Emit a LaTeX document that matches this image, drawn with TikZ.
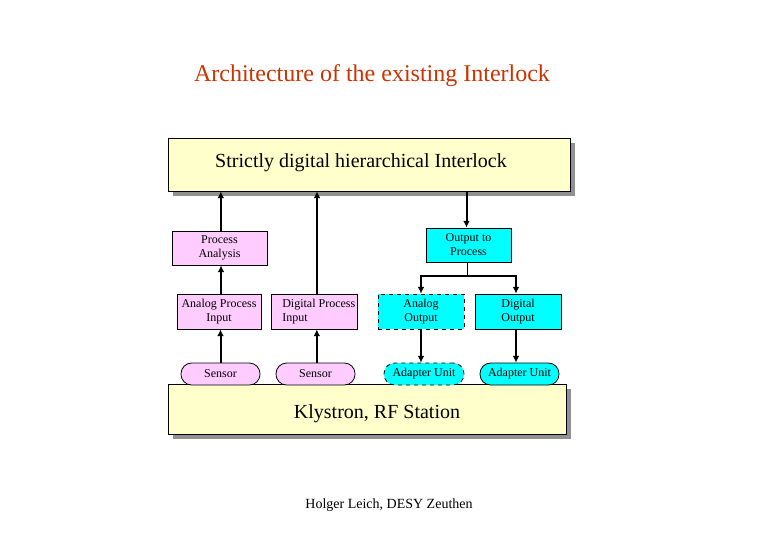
\documentclass[tikz,border=0pt]{standalone}
\usepackage{fontspec}
\setmainfont{Liberation Serif}
\usetikzlibrary{arrows.meta}
\definecolor{ttl}{RGB}{204,51,0}
\definecolor{pinkc}{RGB}{255,204,255}
\definecolor{cyanc}{RGB}{0,255,255}
\definecolor{yell}{RGB}{255,255,204}
\definecolor{shad}{RGB}{145,145,145}
\tikzset{
  bigbox/.style={draw=black, line width=0.6pt, fill=yell, inner sep=0pt,
    font=\fontsize{15}{18}\selectfont},
  smallbox/.style={draw=black, line width=0.6pt, inner sep=0pt, align=center,
    font=\fontsize{9}{10.5}\selectfont, minimum height=26.25pt},
  pill/.style={draw=black, line width=0.6pt, inner sep=0pt, rounded corners=8pt,
    font=\fontsize{9}{10.5}\selectfont, minimum height=16.5pt},
  arr/.style={line width=1.5pt, -{Latex[length=5pt,width=5pt]}},
  thinline/.style={line width=0.6pt}
}
\begin{document}
\begin{tikzpicture}[x=0.75pt,y=-0.75pt]
\useasboundingbox (0,0) rectangle (780,540);
\fill[white] (0,0) rectangle (780,540);
% title
\node (title) [text=ttl, font=\fontsize{18}{21}\selectfont] at (372,75.5) {Architecture of the existing Interlock};
% shadows
\fill[shad] (173,143) rectangle (575,196);
\fill[shad] (173,389) rectangle (571,439);
% top box
\node (top) [bigbox, minimum width=301.5pt, minimum height=39.75pt] at (369,164.5) {};
\node (toptxt) [font=\fontsize{15}{18}\selectfont] at (361,162.5) {Strictly digital hierarchical Interlock};
% bottom box
\node (bot) [bigbox, minimum width=298.5pt, minimum height=37.5pt] at (367,409) {};
\node (bottxt) [font=\fontsize{15}{18}\selectfont] at (377,414) {Klystron, RF Station};
% middle boxes
\node (pa) [smallbox, fill=pinkc, minimum width=71.25pt, minimum height=25.5pt] at (219.5,248) {Process\\Analysis};
\node (op) [smallbox, fill=cyanc, minimum width=63.75pt, minimum height=25.5pt] at (468.5,245) {Output to\\Process};
\node (api) [smallbox, fill=pinkc, minimum width=63pt] at (219,311.5) {Analog Process\\Input};
\node (dpi) [smallbox, fill=pinkc, minimum width=64.5pt] at (314,311.5) {};
\node (dpitxt) [anchor=west, align=left, inner sep=0pt, font=\fontsize{9}{10.5}\selectfont] at (282,311.5) {Digital Process\\Input};
\node (ao) [smallbox, fill=cyanc, dashed, minimum width=64.5pt] at (421,311.5) {Analog\\Output};
\node (do) [smallbox, fill=cyanc, minimum width=64.5pt] at (518,311.5) {Digital\\Output};
% pills
\node (s1) [pill, fill=pinkc, minimum width=59.25pt] at (220.5,374) {\raisebox{-1.5pt}{Sensor}};
\node (s2) [pill, fill=pinkc, minimum width=59.25pt] at (315.5,374) {\raisebox{-1.5pt}{Sensor}};
\node (au1) [pill, fill=cyanc, dashed, minimum width=60pt] at (424,374) {\raisebox{2.5pt}{Adapter Unit}};
\node (au2) [pill, fill=cyanc, minimum width=59.25pt] at (519.5,374) {\raisebox{2.5pt}{Adapter Unit}};
% connectors
\draw[arr] ([xshift=1pt]pa.north) -- ([xshift=1pt]pa.north |- top.south);
\draw[arr] ([xshift=1.5pt]api.north) -- ([xshift=1.5pt]api.north |- pa.south);
\draw[arr] (s1.north) -- (s1.north |- api.south);
\draw[arr] ([xshift=1pt]s2.north) -- ([xshift=1pt]s2.north |- dpi.south);
\draw[arr] ([xshift=2.25pt]dpi.north) -- ([xshift=2.25pt]dpi.north |- top.south);
\draw[arr] ([xshift=-1.5pt]op.north |- top.south) -- ([xshift=-1.5pt]op.north);
\coordinate (br) at ([xshift=-1pt]op.south |- 0,276);
\draw[thinline] ([xshift=-1pt]op.south) -- (br);
\draw[arr] (br) -| (ao.north);
\draw[arr] (br) -| ([xshift=-1.5pt]do.north);
\draw[arr] (ao.south) -- (ao.south |- au1.north);
\draw[arr] ([xshift=-1.5pt]do.south) -- ([xshift=-1.5pt]do.south |- au2.north);
% footer
\node (foot) [font=\fontsize{10.5}{12}\selectfont] at (389,505) {Holger Leich, DESY Zeuthen};
\end{tikzpicture}
\end{document}
